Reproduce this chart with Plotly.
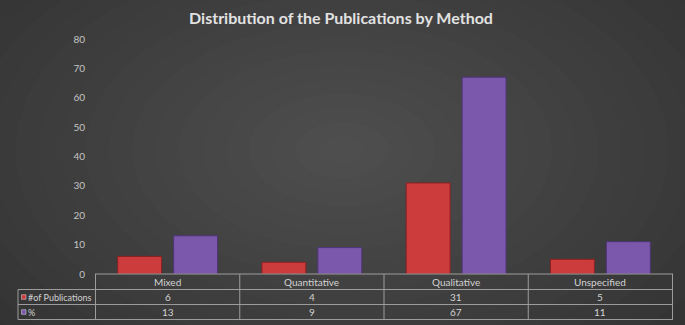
import plotly.graph_objects as go

categories = ["Mixed", "Quantitative", "Qualitative", "Unspecified"]
series_names = ["#of Publications", "%"]
publications = [6, 4, 31, 5]
percent = [13, 9, 67, 11]
y_ticks = [0, 10, 20, 30, 40, 50, 60, 70, 80]

W, H = 685, 325
ML, MR, MT, MB = 95, 12, 39, 51
PW = W - ML - MR
PH = H - MT - MB

def px_x(px):
    return (px - ML) / PW

def px_y(py):
    return (H - MB - py) / PH

red = "#cd3c3c"
purple = "#7b58ab"
text_col = "#d2d2d2"
grid_col = "#9c9c9c"

fig = go.Figure()
fig.add_trace(go.Bar(x=categories, y=publications, name=series_names[0],
                     marker=dict(color=red, line=dict(color="#8a2020", width=1))))
fig.add_trace(go.Bar(x=categories, y=percent, name=series_names[1],
                     marker=dict(color=purple, line=dict(color="#4f3577", width=1))))

shapes = []
# background radial glow (solid concentric ellipses, dark outside -> lighter centre)
N = 24
c_out, c_in = 0x2c, 0x4e
for i in range(N):
    f = 1 - i / N
    cx, cy = 342, 150
    rx, ry = 560 * f, 340 * f
    g = int(round(c_out + (c_in - c_out) * (i + 1) / N))
    col = "#%02x%02x%02x" % (g, g, g)
    shapes.append(dict(type="circle", xref="paper", yref="paper", layer="below",
                       x0=px_x(cx - rx), x1=px_x(cx + rx), y0=px_y(cy + ry), y1=px_y(cy - ry),
                       fillcolor=col, line=dict(width=0)))

# table grid
row_y = [274, 289.5, 304.5, 319.5]
left_x = 18
for i, yy in enumerate(row_y):
    x0 = px_x(ML) if i == 0 else px_x(left_x)
    shapes.append(dict(type="line", xref="paper", yref="paper", x0=x0, x1=1,
                       y0=px_y(yy), y1=px_y(yy), line=dict(color=grid_col, width=1)))
for k in range(len(categories) + 1):
    shapes.append(dict(type="line", xref="x", yref="paper", x0=k - 0.5, x1=k - 0.5,
                       y0=px_y(row_y[0]), y1=px_y(row_y[-1]), line=dict(color=grid_col, width=1)))
shapes.append(dict(type="line", xref="paper", yref="paper", x0=px_x(left_x), x1=px_x(left_x),
                   y0=px_y(row_y[1]), y1=px_y(row_y[-1]), line=dict(color=grid_col, width=1)))
# legend keys
for j, col in enumerate([red, purple]):
    yc = (row_y[j + 1] + row_y[j + 2]) / 2
    shapes.append(dict(type="rect", xref="paper", yref="paper",
                       x0=px_x(21.5), x1=px_x(26), y0=px_y(yc + 2.3), y1=px_y(yc - 2.3),
                       fillcolor=col, line=dict(color="#dddddd", width=0.5)))

annotations = []
fnt = dict(family="Lato, sans-serif", size=10, color=text_col)
fnt_small = dict(family="Lato, sans-serif", size=9, color=text_col)
for k, c in enumerate(categories):
    annotations.append(dict(x=c, xref="x", y=px_y((row_y[0] + row_y[1]) / 2), yref="paper",
                            text=c, showarrow=False, font=fnt, xanchor="center", yanchor="middle"))
    for j, vals in enumerate([publications, percent]):
        annotations.append(dict(x=c, xref="x", y=px_y((row_y[j + 1] + row_y[j + 2]) / 2), yref="paper",
                                text=str(vals[k]), showarrow=False, font=fnt,
                                xanchor="center", yanchor="middle"))
for j, nm in enumerate(series_names):
    annotations.append(dict(x=px_x(26), xref="paper", y=px_y((row_y[j + 1] + row_y[j + 2]) / 2),
                            yref="paper", text=nm, showarrow=False, font=fnt_small,
                            xanchor="left", yanchor="middle"))

fig.update_layout(
    width=W, height=H,
    margin=dict(l=ML, r=MR, t=MT, b=MB, pad=0),
    paper_bgcolor="#2b2b2b",
    plot_bgcolor="rgba(0,0,0,0)",
    barmode="group",
    bargap=0.225,
    bargroupgap=0.214,
    showlegend=False,
    title=dict(text="<b>Distribution of the Publications by Method</b>", x=341 / W, xref="container",
               xanchor="center", y=1 - 18 / H, yanchor="middle",
               font=dict(family="Lato, sans-serif", size=16, color="#e2e2e2")),
    xaxis=dict(showticklabels=False, showgrid=False, zeroline=False, showline=False, ticks=""),
    yaxis=dict(range=[0, 80], tickvals=y_ticks, showgrid=False, zeroline=False, showline=False,
               ticks="", ticklabelstandoff=9,
               tickfont=dict(family="Lato, sans-serif", size=10, color="#c4c4c4")),
    shapes=shapes,
    annotations=annotations,
    hovermode=False,
)

fig.write_html("out.html", config={"displayModeBar": False},
               post_script="document.body.style.margin='0';document.body.style.overflow='hidden';")
